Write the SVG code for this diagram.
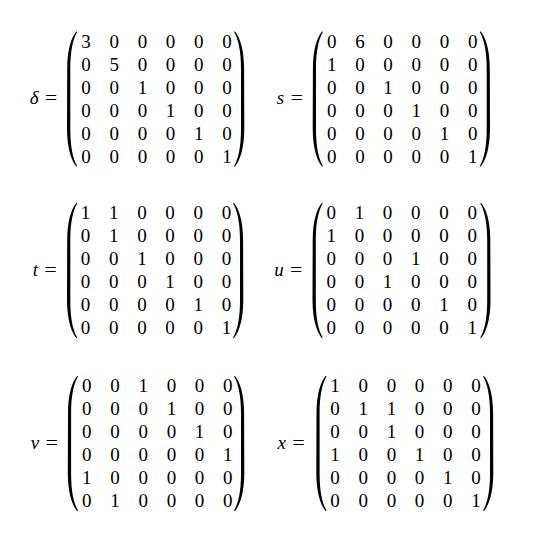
<svg xmlns="http://www.w3.org/2000/svg" xmlns:xlink="http://www.w3.org/1999/xlink" width="547" height="541" viewBox="0 0 547 541">
<style>
text{font-family:"Liberation Serif","Times New Roman",serif;font-size:19px;fill:#000}
.d{text-anchor:middle}
.var{font-style:italic;text-anchor:end}
.eq{text-anchor:middle}
.p{fill:#000}
</style>
<defs>
<path id="lp" class="p" d="M9.5,-67.7 C4.5,-62 0.2,-50 0.2,-30 L0,30 C0.2,50 4.5,62 9.5,67.7 L10.2,67 C6,60 3.3,48 3.3,30 L3.3,-30 C3.3,-48 6,-60 10.2,-67 Z"/>
</defs>
<rect width="547" height="541" fill="#fff"/>

<g id="delta" transform="translate(86,47.5)">
<text class="var" x="-47.5" y="56.5">δ</text><text class="eq" x="-35" y="56.5" textLength="12.5" lengthAdjust="spacingAndGlyphs">=</text>
<use xlink:href="#lp" transform="translate(-19,51.5)"/><use xlink:href="#lp" transform="translate(158.3,51.5) scale(-1,1)"/>
<text class="d" x="0" y="0">3</text><text class="d" x="28.2" y="0">0</text><text class="d" x="56.4" y="0">0</text><text class="d" x="84.6" y="0">0</text><text class="d" x="112.8" y="0">0</text><text class="d" x="141" y="0">0</text>
<text class="d" x="0" y="23">0</text><text class="d" x="28.2" y="23">5</text><text class="d" x="56.4" y="23">0</text><text class="d" x="84.6" y="23">0</text><text class="d" x="112.8" y="23">0</text><text class="d" x="141" y="23">0</text>
<text class="d" x="0" y="46">0</text><text class="d" x="28.2" y="46">0</text><text class="d" x="56.4" y="46">1</text><text class="d" x="84.6" y="46">0</text><text class="d" x="112.8" y="46">0</text><text class="d" x="141" y="46">0</text>
<text class="d" x="0" y="69">0</text><text class="d" x="28.2" y="69">0</text><text class="d" x="56.4" y="69">0</text><text class="d" x="84.6" y="69">1</text><text class="d" x="112.8" y="69">0</text><text class="d" x="141" y="69">0</text>
<text class="d" x="0" y="92">0</text><text class="d" x="28.2" y="92">0</text><text class="d" x="56.4" y="92">0</text><text class="d" x="84.6" y="92">0</text><text class="d" x="112.8" y="92">1</text><text class="d" x="141" y="92">0</text>
<text class="d" x="0" y="115">0</text><text class="d" x="28.2" y="115">0</text><text class="d" x="56.4" y="115">0</text><text class="d" x="84.6" y="115">0</text><text class="d" x="112.8" y="115">0</text><text class="d" x="141" y="115">1</text>
</g>

<g id="s" transform="translate(331.7,47.5)">
<text class="var" x="-47.5" y="56.5">s</text><text class="eq" x="-35" y="56.5" textLength="12.5" lengthAdjust="spacingAndGlyphs">=</text>
<use xlink:href="#lp" transform="translate(-19,51.5)"/><use xlink:href="#lp" transform="translate(158.3,51.5) scale(-1,1)"/>
<text class="d" x="0" y="0">0</text><text class="d" x="28.2" y="0">6</text><text class="d" x="56.4" y="0">0</text><text class="d" x="84.6" y="0">0</text><text class="d" x="112.8" y="0">0</text><text class="d" x="141" y="0">0</text>
<text class="d" x="0" y="23">1</text><text class="d" x="28.2" y="23">0</text><text class="d" x="56.4" y="23">0</text><text class="d" x="84.6" y="23">0</text><text class="d" x="112.8" y="23">0</text><text class="d" x="141" y="23">0</text>
<text class="d" x="0" y="46">0</text><text class="d" x="28.2" y="46">0</text><text class="d" x="56.4" y="46">1</text><text class="d" x="84.6" y="46">0</text><text class="d" x="112.8" y="46">0</text><text class="d" x="141" y="46">0</text>
<text class="d" x="0" y="69">0</text><text class="d" x="28.2" y="69">0</text><text class="d" x="56.4" y="69">0</text><text class="d" x="84.6" y="69">1</text><text class="d" x="112.8" y="69">0</text><text class="d" x="141" y="69">0</text>
<text class="d" x="0" y="92">0</text><text class="d" x="28.2" y="92">0</text><text class="d" x="56.4" y="92">0</text><text class="d" x="84.6" y="92">0</text><text class="d" x="112.8" y="92">1</text><text class="d" x="141" y="92">0</text>
<text class="d" x="0" y="115">0</text><text class="d" x="28.2" y="115">0</text><text class="d" x="56.4" y="115">0</text><text class="d" x="84.6" y="115">0</text><text class="d" x="112.8" y="115">0</text><text class="d" x="141" y="115">1</text>
</g>

<g id="t" transform="translate(85.5,219)">
<text class="var" x="-47.5" y="56.5">t</text><text class="eq" x="-35" y="56.5" textLength="12.5" lengthAdjust="spacingAndGlyphs">=</text>
<use xlink:href="#lp" transform="translate(-18.5,51.5)"/><use xlink:href="#lp" transform="translate(157.8,51.5) scale(-1,1)"/>
<text class="d" x="0" y="0">1</text><text class="d" x="28.2" y="0">1</text><text class="d" x="56.4" y="0">0</text><text class="d" x="84.6" y="0">0</text><text class="d" x="112.8" y="0">0</text><text class="d" x="141" y="0">0</text>
<text class="d" x="0" y="23">0</text><text class="d" x="28.2" y="23">1</text><text class="d" x="56.4" y="23">0</text><text class="d" x="84.6" y="23">0</text><text class="d" x="112.8" y="23">0</text><text class="d" x="141" y="23">0</text>
<text class="d" x="0" y="46">0</text><text class="d" x="28.2" y="46">0</text><text class="d" x="56.4" y="46">1</text><text class="d" x="84.6" y="46">0</text><text class="d" x="112.8" y="46">0</text><text class="d" x="141" y="46">0</text>
<text class="d" x="0" y="69">0</text><text class="d" x="28.2" y="69">0</text><text class="d" x="56.4" y="69">0</text><text class="d" x="84.6" y="69">1</text><text class="d" x="112.8" y="69">0</text><text class="d" x="141" y="69">0</text>
<text class="d" x="0" y="92">0</text><text class="d" x="28.2" y="92">0</text><text class="d" x="56.4" y="92">0</text><text class="d" x="84.6" y="92">0</text><text class="d" x="112.8" y="92">1</text><text class="d" x="141" y="92">0</text>
<text class="d" x="0" y="115">0</text><text class="d" x="28.2" y="115">0</text><text class="d" x="56.4" y="115">0</text><text class="d" x="84.6" y="115">0</text><text class="d" x="112.8" y="115">0</text><text class="d" x="141" y="115">1</text>
</g>

<g id="u" transform="translate(331.2,219)">
<text class="var" x="-47.5" y="56.5">u</text><text class="eq" x="-35" y="56.5" textLength="12.5" lengthAdjust="spacingAndGlyphs">=</text>
<use xlink:href="#lp" transform="translate(-18.7,51.5)"/><use xlink:href="#lp" transform="translate(159.3,51.5) scale(-1,1)"/>
<text class="d" x="0" y="0">0</text><text class="d" x="28.2" y="0">1</text><text class="d" x="56.4" y="0">0</text><text class="d" x="84.6" y="0">0</text><text class="d" x="112.8" y="0">0</text><text class="d" x="141" y="0">0</text>
<text class="d" x="0" y="23">1</text><text class="d" x="28.2" y="23">0</text><text class="d" x="56.4" y="23">0</text><text class="d" x="84.6" y="23">0</text><text class="d" x="112.8" y="23">0</text><text class="d" x="141" y="23">0</text>
<text class="d" x="0" y="46">0</text><text class="d" x="28.2" y="46">0</text><text class="d" x="56.4" y="46">0</text><text class="d" x="84.6" y="46">1</text><text class="d" x="112.8" y="46">0</text><text class="d" x="141" y="46">0</text>
<text class="d" x="0" y="69">0</text><text class="d" x="28.2" y="69">0</text><text class="d" x="56.4" y="69">1</text><text class="d" x="84.6" y="69">0</text><text class="d" x="112.8" y="69">0</text><text class="d" x="141" y="69">0</text>
<text class="d" x="0" y="92">0</text><text class="d" x="28.2" y="92">0</text><text class="d" x="56.4" y="92">0</text><text class="d" x="84.6" y="92">0</text><text class="d" x="112.8" y="92">1</text><text class="d" x="141" y="92">0</text>
<text class="d" x="0" y="115">0</text><text class="d" x="28.2" y="115">0</text><text class="d" x="56.4" y="115">0</text><text class="d" x="84.6" y="115">0</text><text class="d" x="112.8" y="115">0</text><text class="d" x="141" y="115">1</text>
</g>

<g id="v" transform="translate(86.8,392)">
<text class="var" x="-47.5" y="56.5">v</text><text class="eq" x="-35" y="56.5" textLength="12.5" lengthAdjust="spacingAndGlyphs">=</text>
<use xlink:href="#lp" transform="translate(-19,51.5)"/><use xlink:href="#lp" transform="translate(157.5,51.5) scale(-1,1)"/>
<text class="d" x="0" y="0">0</text><text class="d" x="28.2" y="0">0</text><text class="d" x="56.4" y="0">1</text><text class="d" x="84.6" y="0">0</text><text class="d" x="112.8" y="0">0</text><text class="d" x="141" y="0">0</text>
<text class="d" x="0" y="23">0</text><text class="d" x="28.2" y="23">0</text><text class="d" x="56.4" y="23">0</text><text class="d" x="84.6" y="23">1</text><text class="d" x="112.8" y="23">0</text><text class="d" x="141" y="23">0</text>
<text class="d" x="0" y="46">0</text><text class="d" x="28.2" y="46">0</text><text class="d" x="56.4" y="46">0</text><text class="d" x="84.6" y="46">0</text><text class="d" x="112.8" y="46">1</text><text class="d" x="141" y="46">0</text>
<text class="d" x="0" y="69">0</text><text class="d" x="28.2" y="69">0</text><text class="d" x="56.4" y="69">0</text><text class="d" x="84.6" y="69">0</text><text class="d" x="112.8" y="69">0</text><text class="d" x="141" y="69">1</text>
<text class="d" x="0" y="92">1</text><text class="d" x="28.2" y="92">0</text><text class="d" x="56.4" y="92">0</text><text class="d" x="84.6" y="92">0</text><text class="d" x="112.8" y="92">0</text><text class="d" x="141" y="92">0</text>
<text class="d" x="0" y="115">0</text><text class="d" x="28.2" y="115">1</text><text class="d" x="56.4" y="115">0</text><text class="d" x="84.6" y="115">0</text><text class="d" x="112.8" y="115">0</text><text class="d" x="141" y="115">0</text>
</g>

<g id="x" transform="translate(335,392)">
<text class="var" x="-49" y="56.5">x</text><text class="eq" x="-36.5" y="56.5" textLength="12.5" lengthAdjust="spacingAndGlyphs">=</text>
<use xlink:href="#lp" transform="translate(-18.7,51.5)"/><use xlink:href="#lp" transform="translate(158.3,51.5) scale(-1,1)"/>
<text class="d" x="0" y="0">1</text><text class="d" x="28.2" y="0">0</text><text class="d" x="56.4" y="0">0</text><text class="d" x="84.6" y="0">0</text><text class="d" x="112.8" y="0">0</text><text class="d" x="141" y="0">0</text>
<text class="d" x="0" y="23">0</text><text class="d" x="28.2" y="23">1</text><text class="d" x="56.4" y="23">1</text><text class="d" x="84.6" y="23">0</text><text class="d" x="112.8" y="23">0</text><text class="d" x="141" y="23">0</text>
<text class="d" x="0" y="46">0</text><text class="d" x="28.2" y="46">0</text><text class="d" x="56.4" y="46">1</text><text class="d" x="84.6" y="46">0</text><text class="d" x="112.8" y="46">0</text><text class="d" x="141" y="46">0</text>
<text class="d" x="0" y="69">1</text><text class="d" x="28.2" y="69">0</text><text class="d" x="56.4" y="69">0</text><text class="d" x="84.6" y="69">1</text><text class="d" x="112.8" y="69">0</text><text class="d" x="141" y="69">0</text>
<text class="d" x="0" y="92">0</text><text class="d" x="28.2" y="92">0</text><text class="d" x="56.4" y="92">0</text><text class="d" x="84.6" y="92">0</text><text class="d" x="112.8" y="92">1</text><text class="d" x="141" y="92">0</text>
<text class="d" x="0" y="115">0</text><text class="d" x="28.2" y="115">0</text><text class="d" x="56.4" y="115">0</text><text class="d" x="84.6" y="115">0</text><text class="d" x="112.8" y="115">0</text><text class="d" x="141" y="115">1</text>
</g>
</svg>
